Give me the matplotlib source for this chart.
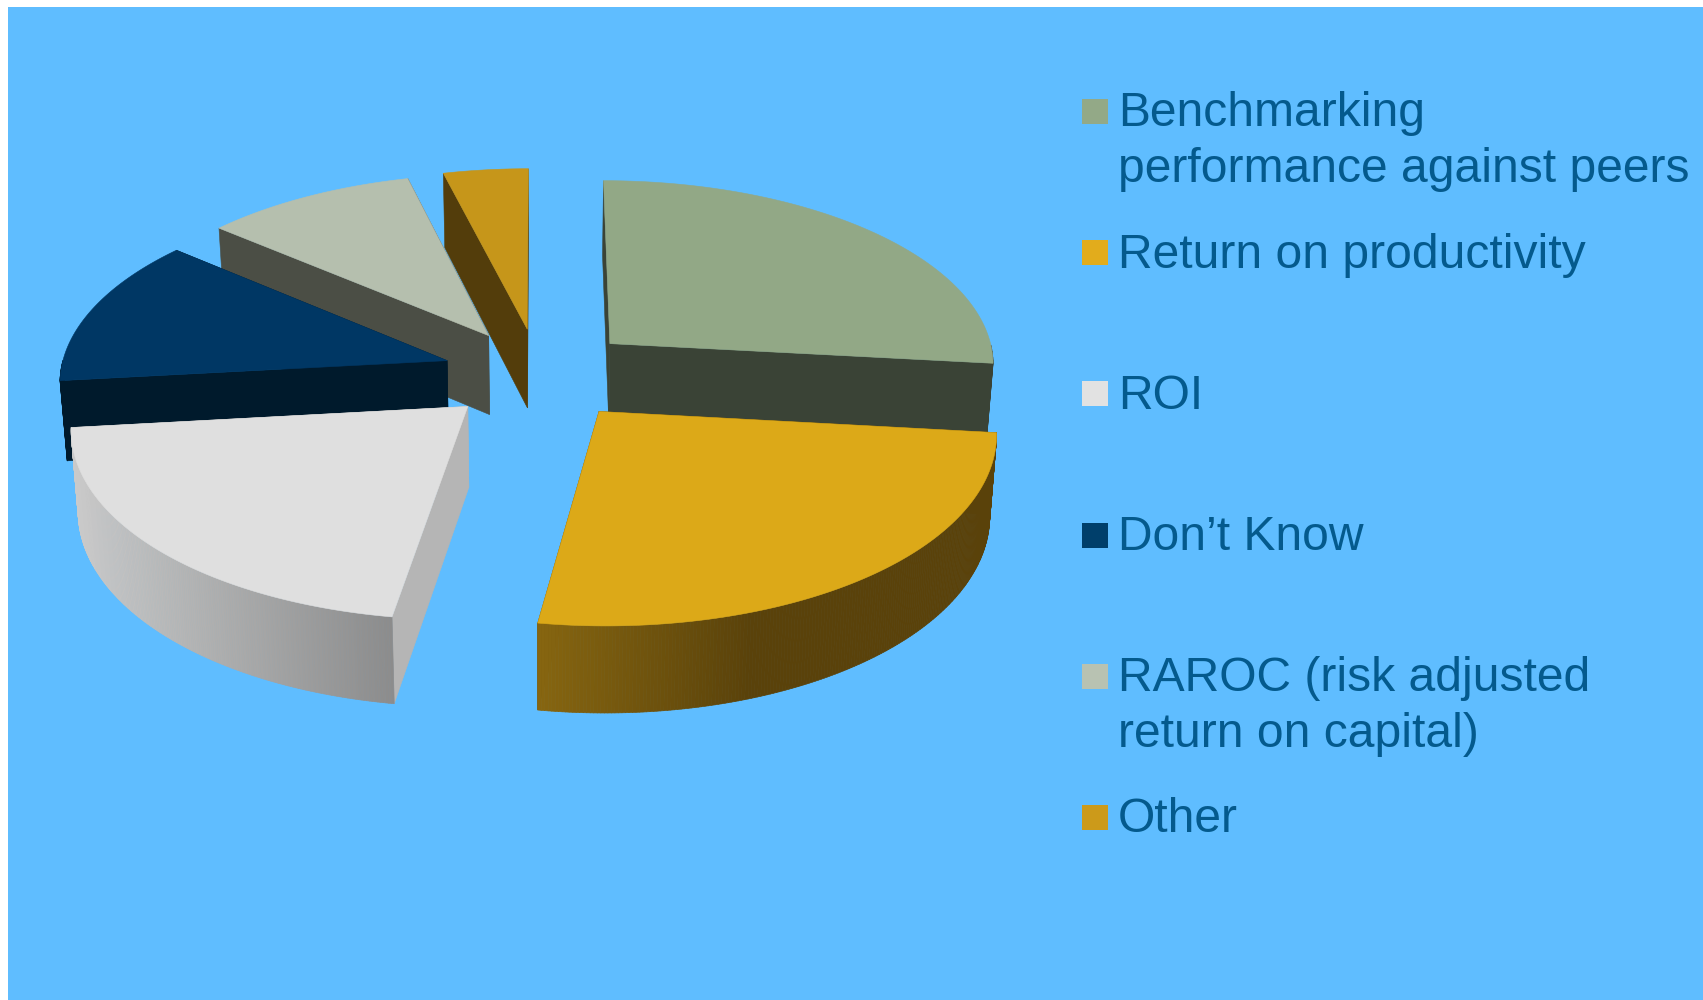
import matplotlib
matplotlib.use('Agg')
import matplotlib.pyplot as plt
from matplotlib.collections import PolyCollection
from matplotlib.colors import to_rgb
from matplotlib.patches import Rectangle
import numpy as np

# share of respondents per measure, clockwise from 12 o'clock
categories = ['Benchmarking performance against peers', 'Return on productivity',
              'ROI', 'Don\u2019t Know', 'RAROC (risk adjusted return on capital)', 'Other']
values = [27, 26, 21, 13, 10, 4]
legend_lines = [['Benchmarking', 'performance against peers'], ['Return on productivity'],
                ['ROI'], ['Don\u2019t Know'], ['RAROC (risk adjusted', 'return on capital)'], ['Other']]

top_colors = ['#92A886', '#DCA918', '#DFDFDF', '#003764', '#B5BFAE', '#C6961A']
legend_colors = ['#93A987', '#E2AC1C', '#E2E2E2', '#003F6B', '#B8C2B2', '#CC9A1A']
wall_colors = ['#3A4336', '#5A420A', '#B5B5B5', '#001A2C', '#4B4E45', '#533D0B']
# outer rim shading, left end to right end
rim_left = ['#3A4336', '#876610', '#CACACA', '#001A2C', '#4B4E45', '#533D0B']
rim_right = ['#3A4336', '#5A420A', '#8C8C8C', '#001A2C', '#4B4E45', '#533D0B']
rim_stop = [1.0, 0.47, 1.0, 1.0, 1.0, 1.0]

BG = '#5FBDFF'
TEXT = '#045A8D'
EXPLODE = 0.25
CX, CY = 539, 374
SCALE_X, SCALE_Y = 387, 185
PERSP = 0.10
DEPTH, DEPTH_GROW, SHRINK = 80, 0.00035, 0.985


def project(x, y, bottom=False):
    # pie plane to pixels, slightly smaller towards the back
    w = 1 + PERSP * y
    px = CX + SCALE_X * x / w
    py = CY - SCALE_Y * y / w
    if bottom:
        py = py + DEPTH * (1 + DEPTH_GROW * (py - CY))
        px = CX + (px - CX) * SHRINK
    return px, py


def face(ax, xs, ys, color):
    ax.fill(xs, ys, facecolor=color, edgecolor=color, linewidth=0.4)


def draw_slice(ax, i, start, end):
    mid = np.radians((start + end) / 2)
    ox, oy = EXPLODE * np.sin(mid), EXPLODE * np.cos(mid)
    th = np.radians(np.linspace(start, end, 200))
    ax_x = ox + np.sin(th)
    ax_y = oy + np.cos(th)

    top_x, top_y = project(ax_x, ax_y)
    bot_x, bot_y = project(ax_x, ax_y, bottom=True)
    atx, aty = project(ox, oy)
    abx, aby = project(ox, oy, bottom=True)

    # cut faces from the exploded apex out to the rim
    face(ax, [atx, top_x[0], bot_x[0], abx], [aty, top_y[0], bot_y[0], aby], wall_colors[i])
    face(ax, [atx, top_x[-1], bot_x[-1], abx], [aty, top_y[-1], bot_y[-1], aby], wall_colors[i])

    # rim as thin quads so the shading can run across it; the back half never shows
    x0, x1 = top_x.min(), top_x.max()
    left, right = np.array(to_rgb(rim_left[i])), np.array(to_rgb(rim_right[i]))
    polys, cols = [], []
    for k in range(len(th) - 1):
        if np.cos(th[k]) > 0:
            continue
        polys.append([(top_x[k], top_y[k]), (top_x[k + 1], top_y[k + 1]),
                      (bot_x[k + 1], bot_y[k + 1]), (bot_x[k], bot_y[k])])
        t = min(((top_x[k] - x0) / (x1 - x0)) / rim_stop[i], 1.0)
        cols.append(left + (right - left) * t)
    if polys:
        ax.add_collection(PolyCollection(polys, facecolors=cols, edgecolors=cols, linewidths=0.5))

    face(ax, np.r_[atx, top_x], np.r_[aty, top_y], top_colors[i])


fig = plt.figure(figsize=(17.03, 10), dpi=100, facecolor='white')
ax = fig.add_axes([0, 0, 1, 1])
ax.set_xlim(0, 1703)
ax.set_ylim(1000, 0)
ax.axis('off')
ax.add_patch(Rectangle((8, 7), 1695, 993, facecolor=BG, edgecolor='none'))

edges = np.r_[0, np.cumsum(values)] / sum(values) * 360
# back slices first, front ones paint over them
for i in [5, 4, 0, 3, 2, 1]:
    draw_slice(ax, i, edges[i], edges[i + 1])

for i, lines in enumerate(legend_lines):
    cy = 111.5 + 141.2 * i
    ax.add_patch(Rectangle((1082, cy - 12.5), 25.5, 25, facecolor=legend_colors[i], edgecolor='none'))
    for j, line in enumerate(lines):
        ax.text(1118, cy + 15 + 56 * j, line, fontsize=34.6, color=TEXT,
                family='Liberation Sans', va='baseline', ha='left')

fig.savefig('out.png', dpi=100)
plt.close(fig)
